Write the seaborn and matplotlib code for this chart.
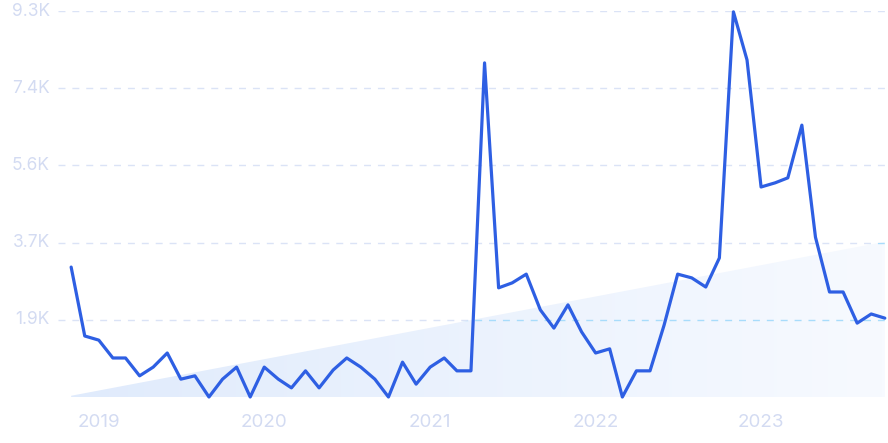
import numpy as np
import pandas as pd
import matplotlib
matplotlib.use("Agg")
import matplotlib.pyplot as plt
import matplotlib.dates as mdates
from matplotlib.colors import LinearSegmentedColormap
import seaborn as sns

# ---- data ----
start_month = "2018-11-01"
values = [3130, 1470, 1370, 940, 940, 510, 720, 1060, 430, 510,
          0, 430, 720, 0, 720, 430, 220, 630, 220, 650,
          940, 720, 430, 0, 840, 310, 720, 940, 630, 630,
          8050, 2630, 2750, 2960, 2100, 1660, 2220, 1570, 1060, 1160,
          0, 630, 630, 1730, 2960, 2870, 2650, 3350, 9280, 8120,
          5060, 5160, 5280, 6550, 3850, 2530, 2530, 1780, 2000, 1900]
trend_ends = [30, 3740]
y_ticks = [1860, 3720, 5580, 7440, 9300]
y_tick_labels = ["1.9K", "3.7K", "5.6K", "7.4K", "9.3K"]
year_ticks = ["2019-01-01", "2020-01-01", "2021-01-01", "2022-01-01", "2023-01-01"]
year_labels = ["2019", "2020", "2021", "2022", "2023"]

dates = pd.date_range(start_month, periods=len(values), freq="MS")
df = pd.DataFrame({"date": dates, "value": values})

sns.set_style("white")
plt.rcParams["font.family"] = ["Inter", "DejaVu Sans"]

fig = plt.figure(figsize=(8.88, 4.43), dpi=100)
ax = fig.add_axes([58 / 888, (443 - 397) / 443, 1 - 58 / 888, (397 - 11) / 443])

# trend area with gradient
tx = mdates.date2num([dates[0], dates[-1]])
poly = ax.fill_between([dates[0], dates[-1]], [0, 0], trend_ends,
                       facecolor="none", edgecolor="none", zorder=1)
cmap = LinearSegmentedColormap.from_list("g", ["#e0ebfc", "#f7faff"])
grad = np.linspace(0, 1, 256).reshape(1, -1)
im = ax.imshow(grad, cmap=cmap, aspect="auto",
               extent=[tx[0], tx[1], 0, trend_ends[1]], origin="lower", zorder=1)
im.set_clip_path(poly.get_paths()[0], transform=ax.transData)

# grid lines
for yt in y_ticks:
    ax.axhline(yt, color="#dbe3f6", lw=1, ls=(0, (5, 5)), zorder=0.5)
    hl = ax.axhline(yt, color="#a8dcfb", lw=1, ls=(0, (5, 5)), zorder=1.5)
    hl.set_clip_path(poly.get_paths()[0], transform=ax.transData)

sns.lineplot(data=df, x="date", y="value", ax=ax, color="#2e5fe3",
             lw=2.3, zorder=3, clip_on=False)

ax.set_xlim(pd.Timestamp("2018-10-03"), pd.Timestamp("2023-10-08"))
ax.set_ylim(0, 9300)
for s in ax.spines.values():
    s.set_visible(False)
ax.set_xlabel("")
ax.set_ylabel("")
ax.set_yticks([])
ax.set_xticks(pd.to_datetime(year_ticks))
ax.set_xticklabels(year_labels, color="#d3dbf2", fontsize=13.5)
ax.tick_params(axis="x", length=0, pad=12)

for yt, lab in zip(y_ticks, y_tick_labels):
    ax.text(-0.01, yt, lab, transform=ax.get_yaxis_transform(),
            ha="right", va="center", color="#d3dbf2", fontsize=12.5)

fig.savefig("out.png", dpi=100)
